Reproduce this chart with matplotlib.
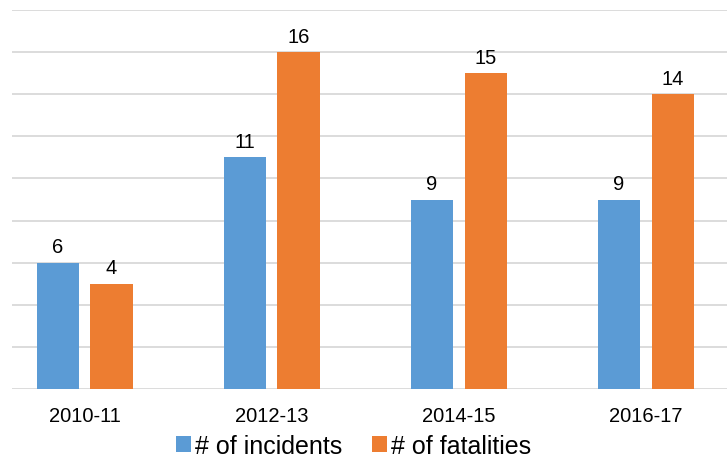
import numpy as np
import matplotlib
matplotlib.use("Agg")
import matplotlib.pyplot as plt

plt.rcParams['font.family'] = ['Liberation Sans', 'DejaVu Sans']

periods = ["2010-11", "2012-13", "2014-15", "2016-17"]
incidents = [6, 11, 9, 9]
fatalities = [5, 16, 15, 14]          # bar heights as drawn
incident_labels = ["6", "11", "9", "9"]
fatality_labels = ["4", "16", "15", "14"]  # labels as printed

blue = "#5b9bd5"
orange = "#ed7d31"

fig = plt.figure(figsize=(7.27, 4.6), dpi=100)
ax = fig.add_axes([12 / 727, 1 - 390 / 460, 1 - 12 / 727, (390 - 11) / 460])

x = np.arange(len(periods))
w = 0.225
b1 = ax.bar(x - 0.144, incidents, w, color=blue, label="# of incidents")
b2 = ax.bar(x + 0.142, fatalities, w, color=orange, label="# of fatalities")

for bars, labels in ((b1, incident_labels), (b2, fatality_labels)):
    for rect, lab in zip(bars, labels):
        ax.text(rect.get_x() + rect.get_width() / 2, rect.get_height() + 0.3,
                lab, ha="center", va="bottom", fontsize=14.5)

ax.set_xlim(-0.39, 3.433)
ax.set_ylim(0, 18)
ax.set_yticks(np.arange(0, 19, 2))
ax.set_yticklabels([])
ax.tick_params(axis="y", length=0)
ax.set_xticks(x)
ax.set_xticklabels(periods, fontsize=14.5)
ax.tick_params(axis="x", length=0, pad=12)
ax.grid(axis="y", color="#d9d9d9", linewidth=1.3)
ax.set_axisbelow(True)
for s in ax.spines.values():
    s.set_visible(False)

fig.legend(loc="center", bbox_to_anchor=(0.486, 1 - 447 / 460), ncol=2, frameon=False,
           fontsize=18, handlelength=0.6, handleheight=0.6, handletextpad=0.15,
           columnspacing=1.2, borderpad=0)

fig.savefig("out.png", dpi=100)
